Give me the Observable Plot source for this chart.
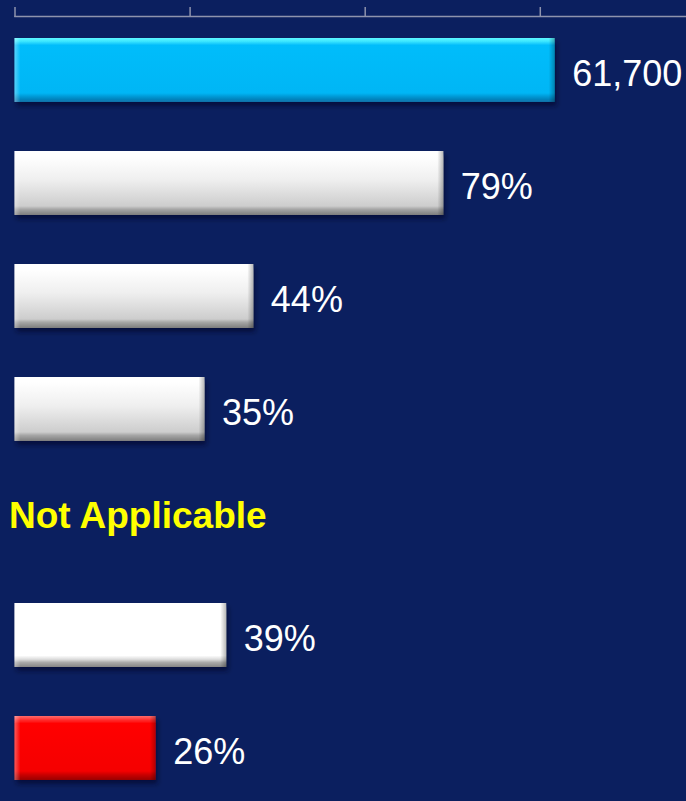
<!DOCTYPE html>
<html>
<head>
<meta charset="utf-8">
<script src="https://cdn.jsdelivr.net/npm/d3@7"></script>
<script src="https://cdn.jsdelivr.net/npm/@observablehq/plot@0.6"></script>
<style>
  html, body { margin: 0; padding: 0; background: #0b1f5f; }
  #chart svg { display: block; }
</style>
</head>
<body>
<div id="chart"></div>
<script>
// ---- data ----
const rowIds   = ["r1", "r2", "r3", "r4", "r5", "r6", "r7"];
const values   = [61700, 79, 44, 35, null, 39, 26];
const units    = ["count", "pct", "pct", "pct", "na", "pct", "pct"];
const labels   = ["61,700", "79%", "44%", "35%", "Not Applicable", "39%", "26%"];
const styles   = ["cyan", "white", "white", "white", "none", "whiteFlat", "red"];
const tickValues = [0, 20000, 40000, 60000];
const xMax = 76700;          // right end of the axis line
const pctUnit = 620;         // axis units for 1% (percent rows share the bar scale)

const rows = rowIds.map((id, i) => ({
  id, value: values[i], unit: units[i], label: labels[i], style: styles[i],
  pos: values[i] == null ? 0 : (units[i] === "pct" ? values[i] * pctUnit : values[i])
}));
const barRows = rows.filter(d => d.value != null);
const naRows = rows.filter(d => d.value == null);

const font = "'Liberation Sans', Arial, Helvetica, sans-serif";

const barMark = (style) => Plot.barX(barRows.filter(d => d.style === style), {
  x: "pos", y: "id", fill: `url(#grad-${style})`
});

const chart = Plot.plot({
  width: 686,
  height: 801,
  marginTop: 16,
  marginLeft: 14.5,
  marginRight: 0,
  marginBottom: 0,
  style: { background: "#0b1f5f", fontFamily: font, overflow: "visible" },
  x: { domain: [0, xMax], label: null },
  y: { domain: rowIds, paddingInner: 0.434, paddingOuter: 0.187, axis: null },
  marks: [
    Plot.frame({ anchor: "top", stroke: "#8e93ad", strokeWidth: 1.5 }),
    Plot.axisX({ anchor: "top", ticks: tickValues, tickSize: 10, tickFormat: () => "", stroke: "#8e93ad", strokeWidth: 1.5, label: null }),
    barMark("cyan"),
    barMark("white"),
    barMark("whiteFlat"),
    barMark("red"),
    // bevel strips at the bar ends
    Plot.barX(barRows, { x1: 0, x2: 0, y: "id", insetRight: -6, fill: "url(#bevel-left)" }),
    Plot.barX(barRows, { x1: "pos", x2: "pos", y: "id", insetLeft: -6, fill: "url(#bevel-right)" }),
    Plot.text(barRows, {
      x: "pos", y: "id", text: "label", textAnchor: "start", dx: 17, dy: 4,
      fill: "white", fontSize: 36, fontFamily: font
    }),
    Plot.text(naRows, {
      x: "pos", y: "id", text: "label", textAnchor: "start", dx: -6, dy: -6,
      fill: "#ffff00", fontSize: 37, fontWeight: "bold", fontFamily: font
    })
  ]
});

// gradients & shadow
const svg = d3.select(chart.tagName.toLowerCase() === "svg" ? chart : chart.querySelector("svg"));
const defs = svg.insert("defs", ":first-child");
const grads = {
  cyan: [[0, "#5ef6ff"], [0.05, "#3ee8ff"], [0.11, "#05bdfb"], [0.86, "#00b6f5"], [0.92, "#0096d2"], [1, "#0a6fa6"]],
  white: [[0, "#ffffff"], [0.08, "#ffffff"], [0.45, "#efefef"], [0.86, "#cdcdcd"], [0.91, "#a6a6a6"], [1, "#7d7d7d"]],
  whiteFlat: [[0, "#ffffff"], [0.82, "#ffffff"], [0.88, "#dcdcdc"], [0.93, "#a9a9a9"], [1, "#858585"]],
  red: [[0, "#ff6a6a"], [0.06, "#ff3030"], [0.12, "#ff0000"], [0.86, "#f50000"], [0.92, "#c80000"], [1, "#9a0000"]]
};
for (const [name, stops] of Object.entries(grads)) {
  const g = defs.append("linearGradient").attr("id", `grad-${name}`)
    .attr("x1", 0).attr("y1", 0).attr("x2", 0).attr("y2", 1);
  for (const [o, c] of stops) g.append("stop").attr("offset", o).attr("stop-color", c);
}
const bl = defs.append("linearGradient").attr("id", "bevel-left").attr("x1", 0).attr("y1", 0).attr("x2", 1).attr("y2", 0);
bl.append("stop").attr("offset", 0).attr("stop-color", "#ffffff").attr("stop-opacity", 0.35);
bl.append("stop").attr("offset", 1).attr("stop-color", "#ffffff").attr("stop-opacity", 0);
const br = defs.append("linearGradient").attr("id", "bevel-right").attr("x1", 0).attr("y1", 0).attr("x2", 1).attr("y2", 0);
br.append("stop").attr("offset", 0).attr("stop-color", "#000000").attr("stop-opacity", 0);
br.append("stop").attr("offset", 1).attr("stop-color", "#000000").attr("stop-opacity", 0.28);

const f = defs.append("filter").attr("id", "shadow").attr("x", "-5%").attr("y", "-20%").attr("width", "115%").attr("height", "160%");
f.append("feDropShadow").attr("dx", 2).attr("dy", 4).attr("stdDeviation", 2.5)
  .attr("flood-color", "#000020").attr("flood-opacity", 0.55);
svg.selectAll('g[aria-label="bar"]').filter((_, i) => i < 4).attr("filter", "url(#shadow)");

document.getElementById("chart").append(chart);
</script>
</body>
</html>
